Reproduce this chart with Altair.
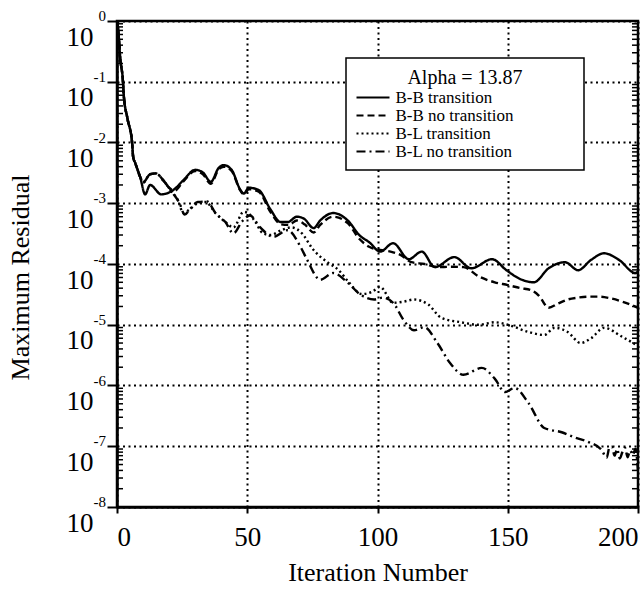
import altair as alt
import pandas as pd

FONT = "Liberation Serif"

series_names = ["B-B transition", "B-B no transition", "B-L transition", "B-L no transition"]

# B-B transition (solid)
bb_tr_iter = [0, 0.5, 1.2, 2.3, 2.6, 4, 5.8, 6.2, 7, 8.9, 10.8, 12.7, 17, 21.6, 25.5, 30, 33, 36, 39, 41, 44,
              47.4, 48.7, 50.6, 54.4, 59, 62.8, 65.5, 69, 71.7, 75.5, 78, 83, 88.6, 93, 97, 101, 106, 112, 117,
              122, 129.5, 136, 144, 149.5, 155, 160, 165.7, 172, 177, 182, 187, 192.7, 199, 200]
bb_tr_res = [1.0, 0.7, 0.25, 0.1, 0.06, 0.025, 0.01, 5.8e-3, 4.6e-3, 2.7e-3, 1.4e-3, 2.0e-3, 1.4e-3, 1.65e-3,
             2.4e-3, 3.55e-3, 3.2e-3, 2.25e-3, 3.8e-3, 4.25e-3, 3.55e-3, 1.65e-3, 1.45e-3, 1.8e-3, 1.65e-3,
             7.8e-4, 4.9e-4, 4.9e-4, 6.0e-4, 5.6e-4, 3.9e-4, 5.2e-4, 6.9e-4, 5.2e-4, 3.0e-4, 2.25e-4, 1.6e-4,
             2.2e-4, 1.2e-4, 1.6e-4, 8.9e-5, 1.3e-4, 8.5e-5, 1.2e-4, 7.9e-5, 5.6e-5, 5.0e-5, 8.5e-5, 1.07e-4,
             7.9e-5, 1.17e-4, 1.5e-4, 1.17e-4, 7.1e-5, 7.5e-5]

# B-B no transition (dashed)
bb_nt_iter = [0, 0.5, 1.2, 2.3, 2.6, 4, 5.8, 6.2, 7, 8.9, 10, 12.7, 15, 17.7, 20, 22, 25.5, 30, 33, 36, 39, 41,
              44, 47.4, 48.7, 50.6, 54.4, 59, 63, 66, 69, 72, 75.5, 78, 83, 88.6, 93, 97, 101, 105, 109, 113,
              118, 123, 128, 133, 139, 145, 150, 155, 159, 162, 165.7, 169, 173, 177, 181, 185, 189, 194, 200]
bb_nt_res = [1.0, 0.7, 0.25, 0.1, 0.06, 0.025, 0.01, 5.8e-3, 4.6e-3, 2.7e-3, 2.2e-3, 3.0e-3, 3.1e-3, 2.4e-3,
             1.8e-3, 1.6e-3, 2.3e-3, 3.4e-3, 3.0e-3, 2.1e-3, 3.6e-3, 4.0e-3, 3.4e-3, 1.6e-3, 1.4e-3, 1.7e-3,
             1.55e-3, 7.1e-4, 4.5e-4, 4.4e-4, 5.2e-4, 4.5e-4, 3.3e-4, 4.4e-4, 6.0e-4, 4.7e-4, 2.6e-4, 1.9e-4,
             1.7e-4, 1.6e-4, 1.4e-4, 1.07e-4, 1.0e-4, 8.9e-5, 9.0e-5, 8.9e-5, 6.2e-5, 5.0e-5, 4.5e-5, 4.0e-5,
             3.7e-5, 3.0e-5, 1.9e-5, 2.2e-5, 2.6e-5, 2.8e-5, 2.9e-5, 2.9e-5, 2.75e-5, 2.4e-5, 1.9e-5]

# B-L transition (dotted)
bl_tr_iter = [0, 0.5, 1.2, 2.3, 2.6, 4, 5.8, 6.2, 7, 8.9, 10, 12.7, 15, 17.7, 21, 23.5, 25.4, 28, 31, 34, 37.8,
              41.6, 44.7, 48.6, 50.5, 53, 56, 59, 63, 67, 71, 75, 81, 85, 89, 94, 98, 101, 106, 110, 114, 119.5,
              124.5, 132, 139, 145, 150, 158, 164, 168, 173, 178, 182, 187, 194, 200]
bl_tr_res = [1.0, 0.7, 0.25, 0.1, 0.06, 0.025, 0.01, 5.8e-3, 4.6e-3, 2.7e-3, 2.2e-3, 3.0e-3, 3.1e-3, 2.4e-3,
             1.55e-3, 1.1e-3, 6.9e-4, 8.0e-4, 1.0e-3, 1.05e-3, 6.9e-4, 4.9e-4, 4.0e-4, 7.2e-4, 6.8e-4, 5.0e-4,
             3.2e-4, 3.0e-4, 3.6e-4, 4.0e-4, 3.2e-4, 1.8e-4, 1.05e-4, 8.0e-5, 5.0e-5, 3.2e-5, 3.5e-5, 4.2e-5,
             2.3e-5, 2.4e-5, 2.6e-5, 2.15e-5, 1.3e-5, 1.1e-5, 1.0e-5, 1.1e-5, 1.0e-5, 7.6e-6, 6.8e-6, 8.9e-6,
             7.6e-6, 5.0e-6, 6.0e-6, 8.9e-6, 6.3e-6, 4.5e-6]

# B-L no transition (dash-dot)
bl_nt_iter = [0, 0.5, 1.2, 2.3, 2.6, 4, 5.8, 6.2, 7, 8.9, 10, 12.7, 15, 17.7, 21, 24, 26, 28, 31, 34.6, 37.8,
              41.6, 44.7, 48, 51, 55, 60, 65.5, 70.5, 73, 78, 83, 88.6, 93.6, 98.7, 102, 106, 110, 114, 118, 123,
              128, 133, 140, 145, 149, 152.6, 158, 164, 170.7, 175.7, 181, 186, 188, 189, 190, 191, 192, 193, 194,
              195, 196, 197, 198, 199, 200]
bl_nt_res = [1.0, 0.7, 0.25, 0.1, 0.06, 0.025, 0.01, 5.8e-3, 4.6e-3, 2.7e-3, 2.2e-3, 3.0e-3, 3.1e-3, 2.4e-3,
             1.55e-3, 1.0e-3, 6.5e-4, 8.0e-4, 1.05e-3, 1.07e-3, 6.9e-4, 4.9e-4, 3.2e-4, 5.0e-4, 6.3e-4, 4.0e-4,
             2.8e-4, 3.6e-4, 1.9e-4, 1.17e-4, 5.5e-5, 7.1e-5, 4.9e-5, 3.1e-5, 2.6e-5, 2.8e-5, 2.3e-5, 1.2e-5,
             8.1e-6, 9.1e-6, 5.0e-6, 2.3e-6, 1.5e-6, 1.95e-6, 1.3e-6, 7.8e-7, 9.1e-7, 5.1e-7, 2.0e-7, 1.7e-7,
             1.4e-7, 1.17e-7, 8.7e-8, 6.5e-8, 9.5e-8, 9.8e-8, 7.0e-8, 9.0e-8, 6.3e-8, 8.0e-8, 9.5e-8, 6.6e-8,
             8.5e-8, 7.2e-8, 9.0e-8, 4.0e-8]

x_ticks = [0, 50, 100, 150, 200]
decade_exps = [0, -1, -2, -3, -4, -5, -6, -7, -8]
decade_vals = [1e0, 1e-1, 1e-2, 1e-3, 1e-4, 1e-5, 1e-6, 1e-7, 1e-8]
minor_vals = [m * v for v in decade_vals[1:] for m in range(2, 10)]

rows = []
for name, its, vals in zip(series_names,
                           [bb_tr_iter, bb_nt_iter, bl_tr_iter, bl_nt_iter],
                           [bb_tr_res, bb_nt_res, bl_tr_res, bl_nt_res]):
    for k, (i, v) in enumerate(zip(its, vals)):
        rows.append({"iter": i, "res": v, "series": name, "idx": k})
df = pd.DataFrame(rows)

exp_df = pd.DataFrame({"res": decade_vals, "lab": [str(e) for e in decade_exps]})
minor_df = pd.DataFrame({"res": minor_vals})

W, H = 521, 486
yscale = alt.Scale(type="log", domain=[1e-8, 1], nice=False)
xscale = alt.Scale(domain=[0, 200], nice=False)

yaxis = alt.Axis(
    values=decade_vals, labelExpr="'10'", title="Maximum Residual", titleFontSize=26,
    titleFont=FONT, titleFontWeight="normal", titleX=-97, titleY=256, titleAngle=-90,
    titleAlign="center", titleBaseline="middle",
    labelFont=FONT, labelFontSize=27, labelPadding=14, labelOffset=16, labelOverlap=False,
    labelBaseline="middle", labelAlign="right",
    tickSize=10, tickWidth=2, tickColor="black", domainColor="black", domainWidth=2.5,
    grid=True, gridDash=[2, 3.5], gridColor="black", gridWidth=2, gridOpacity=1,
    labelColor="black", titleColor="black")

# invisible (blank) glyphs widen the legend frame on the right, as in the reference
pad = "\u2800" * 5

lines = alt.Chart(df).mark_line(color="black", strokeWidth=2.4, interpolate="monotone").encode(
    x=alt.X("iter:Q", scale=xscale, axis=alt.Axis(
        values=x_ticks, title="Iteration Number", titleFontSize=26, titleFont=FONT,
        titleFontWeight="normal", titleY=73, titleBaseline="alphabetic",
        labelFont=FONT, labelFontSize=27, labelFlush=True, labelPadding=11,
        tickSize=6, tickWidth=2, tickColor="black", domainColor="black", domainWidth=2.5,
        grid=True, gridDash=[2, 3.5], gridColor="black", gridWidth=2, gridOpacity=1,
        labelColor="black", titleColor="black")),
    y=alt.Y("res:Q", scale=yscale, axis=yaxis),
    strokeDash=alt.StrokeDash("series:N", scale=alt.Scale(
        domain=series_names, range=[[1, 0], [7, 4], [2, 3], [9, 4, 2, 4]]),
        legend=alt.Legend(orient="none", legendX=229, legendY=37, title="Alpha = 13.87",
                          titleFont=FONT, titleFontSize=20, titleFontWeight="normal",
                          titleAlign="center", titleAnchor="middle", titlePadding=1,
                          titleColor="black",
                          labelFont=FONT, labelFontSize=17, labelColor="black",
                          labelOffset=14, labelLimit=400,
                          labelExpr="datum.label + '" + pad + "'",
                          symbolType="M-3.3,0H3.3", symbolSize=100, symbolOffset=8.5,
                          symbolStrokeWidth=2, symbolStrokeColor="black",
                          strokeColor="black", fillColor="white",
                          padding=10, rowPadding=0)),
    order="idx:Q",
)

minor_left = alt.Chart(minor_df).mark_rule(color="black", strokeWidth=1.5).encode(
    y=alt.Y("res:Q", scale=yscale, axis=yaxis),
    x=alt.value(0), x2=alt.value(6))

minor_right = alt.Chart(minor_df).mark_rule(color="black", strokeWidth=1.5).encode(
    y=alt.Y("res:Q", scale=yscale, axis=yaxis),
    x=alt.value(W), x2=alt.value(W - 6))

exps = alt.Chart(exp_df).mark_text(font=FONT, fontSize=15, align="right", baseline="alphabetic",
                                    color="black").encode(
    y=alt.Y("res:Q", scale=yscale, axis=yaxis),
    x=alt.value(-11),
    text="lab:N")

chart = alt.layer(lines, minor_left, minor_right, exps).properties(
    width=W, height=H,
    autosize=alt.AutoSizeParams(type="none"),
    padding={"left": 117, "top": 21, "right": 2, "bottom": 82},
    background="white",
).configure_view(stroke="black", strokeWidth=2.5).configure_legend(strokeWidth=1.5)

chart.save("out.html", embed_options={"renderer": "svg", "actions": False})
